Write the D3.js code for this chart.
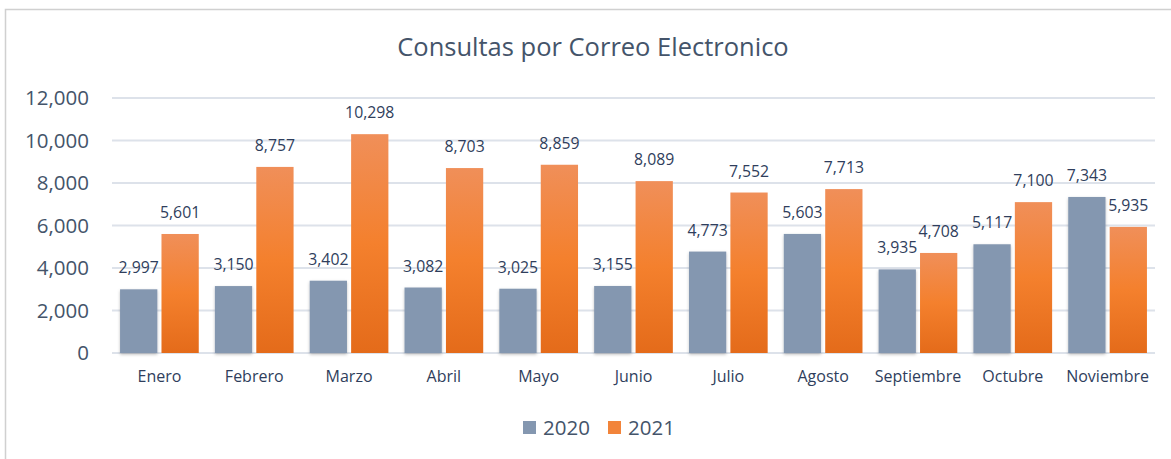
<!DOCTYPE html>
<html>
<head>
<meta charset="utf-8">
<script src="https://cdn.jsdelivr.net/npm/d3@7"></script>
<style>
  html, body { margin: 0; padding: 0; background: #fff; }
  svg { display: block; font-family: "Open Sans", sans-serif; }
</style>
</head>
<body>
<svg id="chart" width="1171" height="459"></svg>
<script>
const categories = ["Enero","Febrero","Marzo","Abril","Mayo","Junio","Julio","Agosto","Septiembre","Octubre","Noviembre"];
const series2020 = [2997,3150,3402,3082,3025,3155,4773,5603,3935,5117,7343];
const series2021 = [5601,8757,10298,8703,8859,8089,7552,7713,4708,7100,5935];
const seriesNames = ["2020","2021"];
const yTicks = [0,2000,4000,6000,8000,10000,12000];
const titleText = "Consultas por Correo Electronico";

const svg = d3.select("#chart");
const W = 1171, H = 459;
const plot = {left: 112, right: 1155, top: 98, bottom: 353};

// chart border
svg.append("rect").attr("x", 5.5).attr("y", 9.5).attr("width", W + 20).attr("height", H + 20)
  .attr("fill", "#fff").attr("stroke", "#D0D0D0").attr("stroke-width", 1.5);

const defs = svg.append("defs");
const grad = defs.append("linearGradient").attr("id", "orangeGrad")
  .attr("x1", 0).attr("y1", 0).attr("x2", 0).attr("y2", 1);
grad.append("stop").attr("offset", "0%").attr("stop-color", "#F08F59");
grad.append("stop").attr("offset", "50%").attr("stop-color", "#F4802D");
grad.append("stop").attr("offset", "100%").attr("stop-color", "#E46B1A");
const shadow = defs.append("filter").attr("id", "shadow").attr("x", "-20%").attr("y", "-20%").attr("width", "140%").attr("height", "140%");
shadow.append("feDropShadow").attr("dx", 0).attr("dy", 1.5).attr("stdDeviation", 1.5)
  .attr("flood-color", "#000").attr("flood-opacity", 0.25);

const y = d3.scaleLinear().domain([0, 12000]).range([plot.bottom, plot.top]);
const x0 = d3.scaleBand().domain(categories).range([plot.left, plot.right]).paddingInner(0.17).paddingOuter(0.085);
const x1 = d3.scaleBand().domain(seriesNames).range([0, x0.bandwidth()]).paddingInner(0.1);

// title
svg.append("text").attr("x", 593).attr("y", 56).attr("text-anchor", "middle")
  .attr("font-size", 25.5).attr("fill", "#44546A").text(titleText);

// gridlines
svg.append("g").selectAll("line").data(yTicks).join("line")
  .attr("x1", plot.left).attr("x2", plot.right)
  .attr("y1", d => y(d)).attr("y2", d => y(d))
  .attr("stroke", "#DDE2EA").attr("stroke-width", 1.8);

// y axis labels
const yAxis = d3.axisLeft(y).tickValues(yTicks).tickFormat(d3.format(",")).tickSize(0).tickPadding(0);
const gy = svg.append("g").attr("transform", `translate(89,0)`).call(yAxis);
gy.select(".domain").remove();
gy.selectAll("text").attr("font-size", 20.5).attr("fill", "#44546A").attr("font-family", "'Open Sans', sans-serif");

// x axis labels
const xAxis = d3.axisBottom(x0).tickSize(0).tickPadding(0);
const gx = svg.append("g").attr("transform", `translate(0,371)`).call(xAxis);
gx.select(".domain").remove();
gx.selectAll("text").attr("font-size", 16).attr("fill", "#2F3E5C").attr("font-family", "'Open Sans', sans-serif");

const data = categories.map((c, i) => ({cat: c, vals: [{k: "2020", v: series2020[i]}, {k: "2021", v: series2021[i]}]}));
const colors = {"2020": "#8497B0", "2021": "url(#orangeGrad)"};

const groups = svg.append("g").selectAll("g").data(data).join("g")
  .attr("transform", d => `translate(${x0(d.cat)},0)`);

groups.selectAll("rect").data(d => d.vals).join("rect")
  .attr("x", d => x1(d.k)).attr("width", x1.bandwidth())
  .attr("y", d => y(d.v)).attr("height", d => y(0) - y(d.v))
  .attr("fill", d => colors[d.k])
  .attr("filter", d => d.k === "2020" ? "url(#shadow)" : null);

groups.selectAll("text").data(d => d.vals).join("text")
  .attr("x", d => x1(d.k) + x1.bandwidth() / 2)
  .attr("y", d => y(d.v) - 16)
  .attr("text-anchor", "middle").attr("font-size", 15.8).attr("fill", "#2F3E5C")
  .text(d => d3.format(",")(d.v));

// legend
const legend = svg.append("g");
const legendItems = [{k: "2020", x: 523, c: "#8497B0"}, {k: "2021", x: 608, c: "#F2843A"}];
legendItems.forEach(it => {
  legend.append("rect").attr("x", it.x).attr("y", 421).attr("width", 13).attr("height", 13).attr("fill", it.c);
  legend.append("text").attr("x", it.x + 20).attr("y", 435).attr("font-size", 20.5).attr("fill", "#44546A").text(it.k);
});
</script>
</body>
</html>
